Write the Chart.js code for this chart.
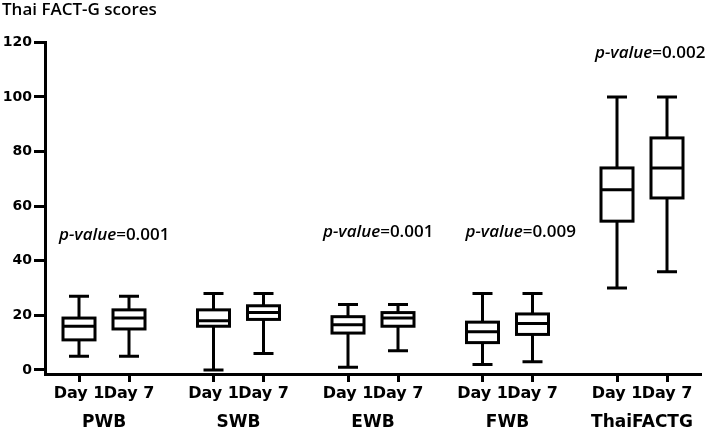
<!DOCTYPE html>
<html>
<head>
<meta charset="utf-8">
<script src="https://cdn.jsdelivr.net/npm/chart.js@4/dist/chart.umd.min.js"></script>
<style>
  html, body { margin: 0; padding: 0; background: #fff; }
  #wrap { width: 708px; height: 429px; }
</style>
</head>
<body>
<div id="wrap"><canvas id="chart" width="708" height="429"></canvas></div>
<script>
const groups = ["PWB", "SWB", "EWB", "FWB", "ThaiFACTG"];
const days = ["Day 1", "Day 7"];

// five-number summaries
const day1Min = [5, 0, 1, 2, 30];
const day1Q1 = [11, 16, 13.5, 10, 54.5];
const day1Median = [16, 18, 16.5, 14, 66];
const day1Q3 = [19, 22, 19.5, 17.5, 74];
const day1Max = [27, 28, 24, 28, 100];

const day7Min = [5, 6, 7, 3, 36];
const day7Q1 = [15, 18.5, 16, 13, 63];
const day7Median = [19, 21, 19, 17, 74];
const day7Q3 = [22, 23.5, 21, 20.5, 85];
const day7Max = [27, 28, 24, 28, 100];

const pValues = ["0.001", "", "0.001", "0.009", "0.002"];
const pLabelY = [49.5, null, 50.5, 50.5, 116];
const yTicks = [0, 20, 40, 60, 80, 100, 120];

const groupStep = 2.69; // x units between groups (a day slot is 1 unit)
const xOf = (g, d) => g * groupStep + d;

function boxData(mins, q1s, meds, q3s, maxs, d) {
  return groups.map((_, g) => ({
    x: xOf(g, d),
    y: meds[g],
    min: mins[g],
    q1: q1s[g],
    median: meds[g],
    q3: q3s[g],
    max: maxs[g],
  }));
}

const boxPlugin = {
  id: "boxes",
  afterDatasetsDraw(chart) {
    const { ctx, scales } = chart;
    const x = scales.x;
    const y = scales.y;
    ctx.save();
    ctx.strokeStyle = "#000";
    ctx.lineWidth = 3;
    ctx.lineCap = "butt";
    chart.data.datasets.forEach((ds) => {
      ds.data.forEach((b) => {
        const cx = x.getPixelForValue(b.x);
        const half = 16;
        const cap = 10;
        const yMin = y.getPixelForValue(b.min);
        const yQ1 = y.getPixelForValue(b.q1);
        const yMed = y.getPixelForValue(b.median);
        const yQ3 = y.getPixelForValue(b.q3);
        const yMax = y.getPixelForValue(b.max);
        ctx.beginPath();
        ctx.moveTo(cx, yQ3);
        ctx.lineTo(cx, yMax);
        ctx.moveTo(cx - cap, yMax);
        ctx.lineTo(cx + cap, yMax);
        ctx.moveTo(cx, yQ1);
        ctx.lineTo(cx, yMin);
        ctx.moveTo(cx - cap, yMin);
        ctx.lineTo(cx + cap, yMin);
        ctx.moveTo(cx - half, yMed);
        ctx.lineTo(cx + half, yMed);
        ctx.stroke();
        ctx.strokeRect(cx - half, yQ3, half * 2, yQ1 - yQ3);
      });
    });
    ctx.restore();
  },
};

const pValuePlugin = {
  id: "pvalues",
  afterDraw(chart, args, opts) {
    const { ctx, scales } = chart;
    ctx.save();
    ctx.fillStyle = "#000";
    ctx.textBaseline = "middle";
    pValues.forEach((p, g) => {
      if (!p) return;
      const left = scales.x.getPixelForValue(xOf(g, 0) + opts.shift[g]);
      const yy = scales.y.getPixelForValue(pLabelY[g]);
      ctx.font = "italic 600 17px 'Open Sans'";
      const head = "p-value";
      ctx.fillText(head, left, yy);
      const w = ctx.measureText(head).width;
      ctx.font = "600 17px 'Open Sans'";
      ctx.fillText("=" + p, left + w, yy);
    });
    ctx.restore();
  },
};

Chart.register(boxPlugin, pValuePlugin);

const ctx = document.getElementById("chart");
const chart = new Chart(ctx, {
  type: "scatter",
  data: {
    datasets: [
      {
        label: days[0],
        data: boxData(day1Min, day1Q1, day1Median, day1Q3, day1Max, 0),
        pointRadius: 0,
      },
      {
        label: days[1],
        data: boxData(day7Min, day7Q1, day7Median, day7Q3, day7Max, 1),
        pointRadius: 0,
      },
    ],
  },
  options: {
    responsive: false,
    animation: false,
    layout: { padding: { top: 0, right: 8, left: 2, bottom: 0 } },
    plugins: {
      legend: { display: false },
      tooltip: { enabled: false },
      title: {
        display: true,
        text: "Thai FACT-G scores",
        align: "start",
        color: "#000",
        font: { family: "'Open Sans'", size: 17, weight: "600" },
        padding: { top: 0, bottom: 22 },
      },
      pvalues: { shift: [-0.4, 0, -0.5, -0.34, -0.44] },
    },
    scales: {
      x: {
        type: "linear",
        position: "bottom",
        min: -0.68,
        max: 12.42,
        afterBuildTicks(scale) {
          const t = [];
          groups.forEach((_, g) => days.forEach((_, d) => t.push({ value: xOf(g, d) })));
          scale.ticks = t;
        },
        afterFit(scale) { scale.height = 34; },
        ticks: {
          autoSkip: false,
          maxRotation: 0,
          padding: 2,
          color: "#000",
          font: { family: "'DejaVu Sans'", size: 16, weight: "bold" },
          callback(value, index) { return days[index % 2]; },
        },
        grid: { drawOnChartArea: false, drawTicks: true, tickLength: 8, lineWidth: 3, color: "#000" },
        border: { display: true, width: 3, color: "#000" },
      },
      x2: {
        type: "linear",
        position: "bottom",
        min: -0.68,
        max: 12.42,
        afterBuildTicks(scale) {
          scale.ticks = groups.map((_, g) => ({ value: xOf(g, 0.5) }));
        },
        afterFit(scale) { scale.height = 21; },
        ticks: {
          autoSkip: false,
          maxRotation: 0,
          padding: 4,
          color: "#000",
          font: { family: "'DejaVu Sans'", size: 17, weight: "bold" },
          callback(value, index) { return groups[index]; },
        },
        grid: { display: false, drawTicks: false, tickLength: 0 },
        border: { display: false },
      },
      y: {
        min: -1.5,
        max: 120,
        afterBuildTicks(scale) {
          scale.ticks = yTicks.map((v) => ({ value: v }));
        },
        afterFit(scale) { scale.width = 43; },
        ticks: {
          padding: 2,
          color: "#000",
          font: { family: "'DejaVu Sans'", size: 14, weight: "bold" },
        },
        grid: { drawOnChartArea: false, drawTicks: true, tickLength: 11, lineWidth: 3, color: "#000" },
        border: { display: true, width: 3, color: "#000" },
      },
    },
  },
});
</script>
</body>
</html>
